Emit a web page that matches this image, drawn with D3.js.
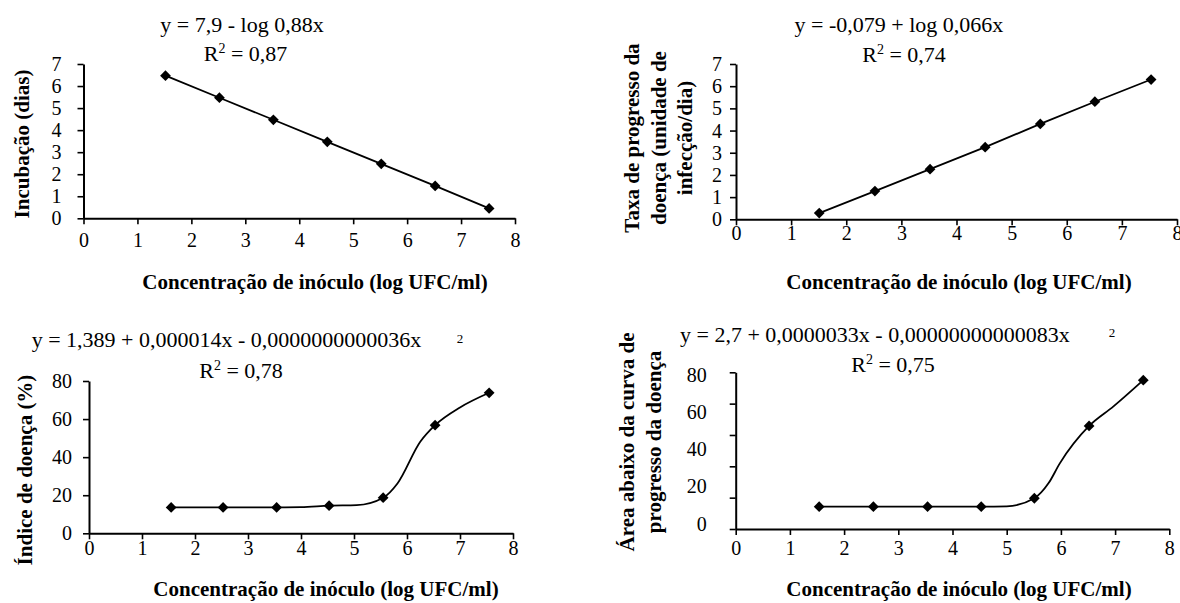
<!DOCTYPE html>
<html>
<head>
<meta charset="utf-8">
<script src="https://cdn.jsdelivr.net/npm/d3@7"></script>
<style>
  html, body { margin: 0; padding: 0; background: #fff; }
  svg { display: block; }
  svg text { font-family: "Liberation Serif", "Times New Roman", "DejaVu Serif", serif; fill: #000; }
  .tick text, .ylab text { font-size: 20px; }
</style>
</head>
<body>
<svg id="chart" width="1180" height="603"></svg>
<script>
// ---- data ----
const xTicks = [0, 1, 2, 3, 4, 5, 6, 7, 8];
const yTicksDias = [0, 1, 2, 3, 4, 5, 6, 7];
const yTicksPct = [0, 20, 40, 60, 80];
const yTickMarksArea = [0, 16, 32, 48, 64, 80];   // tick marks of the last panel
const yLabelsArea = [0, 20, 40, 60, 80];          // its labels (not aligned with marks)

const concIncub = [1.52, 2.52, 3.52, 4.52, 5.52, 6.52, 7.52];
const incubacao = [6.47, 5.47, 4.47, 3.47, 2.47, 1.47, 0.45];

const concTaxa = [1.51, 2.52, 3.52, 4.52, 5.52, 6.51, 7.53];
const taxaProgresso = [0.28, 1.27, 2.26, 3.25, 4.3, 5.3, 6.3];

const concIndice = [1.55, 2.53, 3.54, 4.53, 5.55, 6.53, 7.55];
const indiceDoenca = [13.6, 13.6, 13.6, 14.5, 18.7, 56.8, 73.8];
// smoothed line drawn through extra points
const curvaIndiceX = [1.55, 2.53, 3.54, 4.0, 4.53, 5.05, 5.55, 5.82, 6.25, 6.53, 7.0, 7.55];
const curvaIndiceY = [13.6, 13.6, 13.6, 13.7, 14.5, 14.8, 18.7, 26.2, 48.1, 56.8, 66.1, 73.8];

const concArea = [1.54, 2.54, 3.54, 4.53, 5.51, 6.52, 7.52];
const areaCurva = [11.4, 11.4, 11.4, 11.4, 15.7, 52.6, 76];
const curvaAreaX = [1.54, 2.54, 3.54, 4.53, 5.0, 5.51, 5.77, 5.98, 6.52, 6.97, 7.52];
const curvaAreaY = [11.4, 11.4, 11.4, 11.4, 11.6, 15.7, 23.3, 33.5, 52.6, 62.6, 76];

const xTitle = "Concentração de inóculo (log UFC/ml)";

const svg = d3.select("#chart");

function panel(cfg) {
    const g = svg.append("g");
    const x = d3.scaleLinear().domain([0, 8]).range(cfg.xRange);
    const y = d3.scaleLinear().domain(cfg.yDomain).range(cfg.yRange);
    const fmt = d3.format("d");

    // x axis
    const xa = g.append("g")
        .attr("transform", `translate(0,${cfg.yRange[0]})`)
        .call(d3.axisBottom(x).tickValues(xTicks).tickSize(6).tickSizeOuter(0).tickFormat(fmt));
    xa.selectAll("text").attr("y", cfg.xTickBase).attr("dy", 0);

    // y axis
    const yAxis = d3.axisLeft(y).tickSize(6).tickSizeOuter(0).tickValues(cfg.yTickMarks)
        .tickFormat(cfg.yLabelScale ? () => "" : fmt);
    const ya = g.append("g")
        .attr("transform", `translate(${cfg.xRange[0]},0)`)
        .call(yAxis);
    ya.selectAll("text").attr("x", -cfg.yLabelGap).attr("dy", "0.33em");

    if (cfg.yLabelScale) {
        const yl = d3.scaleLinear().domain(cfg.yDomain).range(cfg.yLabelScale);
        g.append("g")
            .attr("class", "ylab")
            .selectAll("text")
            .data(cfg.yLabels)
            .join("text")
            .attr("x", cfg.xRange[0] - cfg.yLabelGap)
            .attr("y", d => yl(d))
            .attr("dy", "0.33em")
            .attr("text-anchor", "end")
            .text(d => d);
    }

    [xa, ya].forEach(a => {
        a.select(".domain").attr("stroke", "#000").attr("stroke-width", 2);
        a.selectAll(".tick line").attr("stroke", "#000").attr("stroke-width", 1.6);
    });

    // line
    const lineX = cfg.curveX || cfg.px;
    const lineY = cfg.curveY || cfg.py;
    const line = d3.line()
        .x(i => x(lineX[i]))
        .y(i => y(lineY[i]))
        .curve(cfg.curveX ? d3.curveMonotoneX : d3.curveLinear);
    g.append("path")
        .attr("d", line(d3.range(lineX.length)))
        .attr("fill", "none")
        .attr("stroke", "#000")
        .attr("stroke-width", 1.8);

    // markers
    g.append("g")
        .selectAll("path")
        .data(d3.range(cfg.px.length))
        .join("path")
        .attr("transform", i => `translate(${x(cfg.px[i])},${y(cfg.py[i])}) rotate(45)`)
        .attr("d", d3.symbol(d3.symbolSquare, 58))
        .attr("fill", "#000");

    // equation and R2
    g.append("text")
        .attr("x", cfg.eq.x).attr("y", cfg.eq.y)
        .attr("text-anchor", cfg.eq.anchor)
        .attr("font-size", 22)
        .text(cfg.eq.text);
    if (cfg.eq.sup) {
        g.append("text")
            .attr("x", cfg.eq.sup[0]).attr("y", cfg.eq.sup[1])
            .attr("text-anchor", "middle")
            .attr("font-size", 13)
            .text("2");
    }
    const r2 = g.append("text")
        .attr("x", cfg.r2.x).attr("y", cfg.r2.y)
        .attr("text-anchor", "middle")
        .attr("font-size", 22);
    r2.append("tspan").text("R");
    r2.append("tspan").attr("font-size", 14).attr("dy", -8).text("2");
    r2.append("tspan").attr("dy", 8).text(" = " + cfg.r2.text);

    // axis titles
    g.append("text")
        .attr("x", cfg.xTitle[0]).attr("y", cfg.xTitle[1])
        .attr("text-anchor", "middle")
        .attr("font-size", 21).attr("font-weight", "bold")
        .text(xTitle);

    const yt = g.append("text")
        .attr("transform", `translate(0,${cfg.yTitle.cy}) rotate(-90)`)
        .attr("text-anchor", "middle")
        .attr("font-size", 21).attr("font-weight", "bold");
    cfg.yTitle.lines.forEach((t, i) => {
        yt.append("tspan")
            .attr("x", 0)
            .attr("y", cfg.yTitle.xs[i])
            .attr("dy", "0.35em")
            .text(t);
    });
}

panel({
    px: concIncub, py: incubacao,
    xRange: [83.5, 515], yRange: [218.3, 64], yDomain: [0, 7],
    yTickMarks: yTicksDias, xTickBase: 29, yLabelGap: 22,
    eq: { x: 242, y: 32, anchor: "middle", text: "y = 7,9 - log 0,88x" },
    r2: { x: 245.5, y: 61, text: "0,87" },
    xTitle: [315, 289],
    yTitle: { cy: 144, xs: [22], lines: ["Incubação (dias)"] }
});

panel({
    px: concTaxa, py: taxaProgresso,
    xRange: [736, 1177], yRange: [219.3, 64], yDomain: [0, 7],
    yTickMarks: yTicksDias, xTickBase: 21, yLabelGap: 14,
    eq: { x: 899, y: 32, anchor: "middle", text: "y = -0,079 + log 0,066x" },
    r2: { x: 904, y: 62, text: "0,74" },
    xTitle: [959, 288.5],
    yTitle: { cy: 138, xs: [632, 658.5, 685], lines: ["Taxa de progresso da", "doença (unidade de", "infecção/dia)"] }
});

panel({
    px: concIndice, py: indiceDoenca, curveX: curvaIndiceX, curveY: curvaIndiceY,
    xRange: [89, 513], yRange: [533.3, 381], yDomain: [0, 80],
    yTickMarks: yTicksPct, xTickBase: 21.5, yLabelGap: 17,
    eq: { x: 31.7, y: 347, anchor: "start", text: "y = 1,389 + 0,000014x - 0,0000000000036x", sup: [460, 343] },
    r2: { x: 241, y: 378, text: "0,78" },
    xTitle: [326, 596],
    yTitle: { cy: 470, xs: [25], lines: ["Índice de doença (%)"] }
});

panel({
    px: concArea, py: areaCurva, curveX: curvaAreaX, curveY: curvaAreaY,
    xRange: [735.7, 1169.3], yRange: [529, 372.3], yDomain: [0, 80],
    yTickMarks: yTickMarksArea, yLabels: yLabelsArea, yLabelScale: [524, 375],
    xTickBase: 26, yLabelGap: 29,
    eq: { x: 680, y: 341.7, anchor: "start", text: "y = 2,7 + 0,0000033x - 0,00000000000083x", sup: [1112, 337] },
    r2: { x: 893, y: 372, text: "0,75" },
    xTitle: [959, 596],
    yTitle: { cy: 442, xs: [626.7, 653.3], lines: ["Área abaixo da curva de", "progresso da doença"] }
});
</script>
</body>
</html>
